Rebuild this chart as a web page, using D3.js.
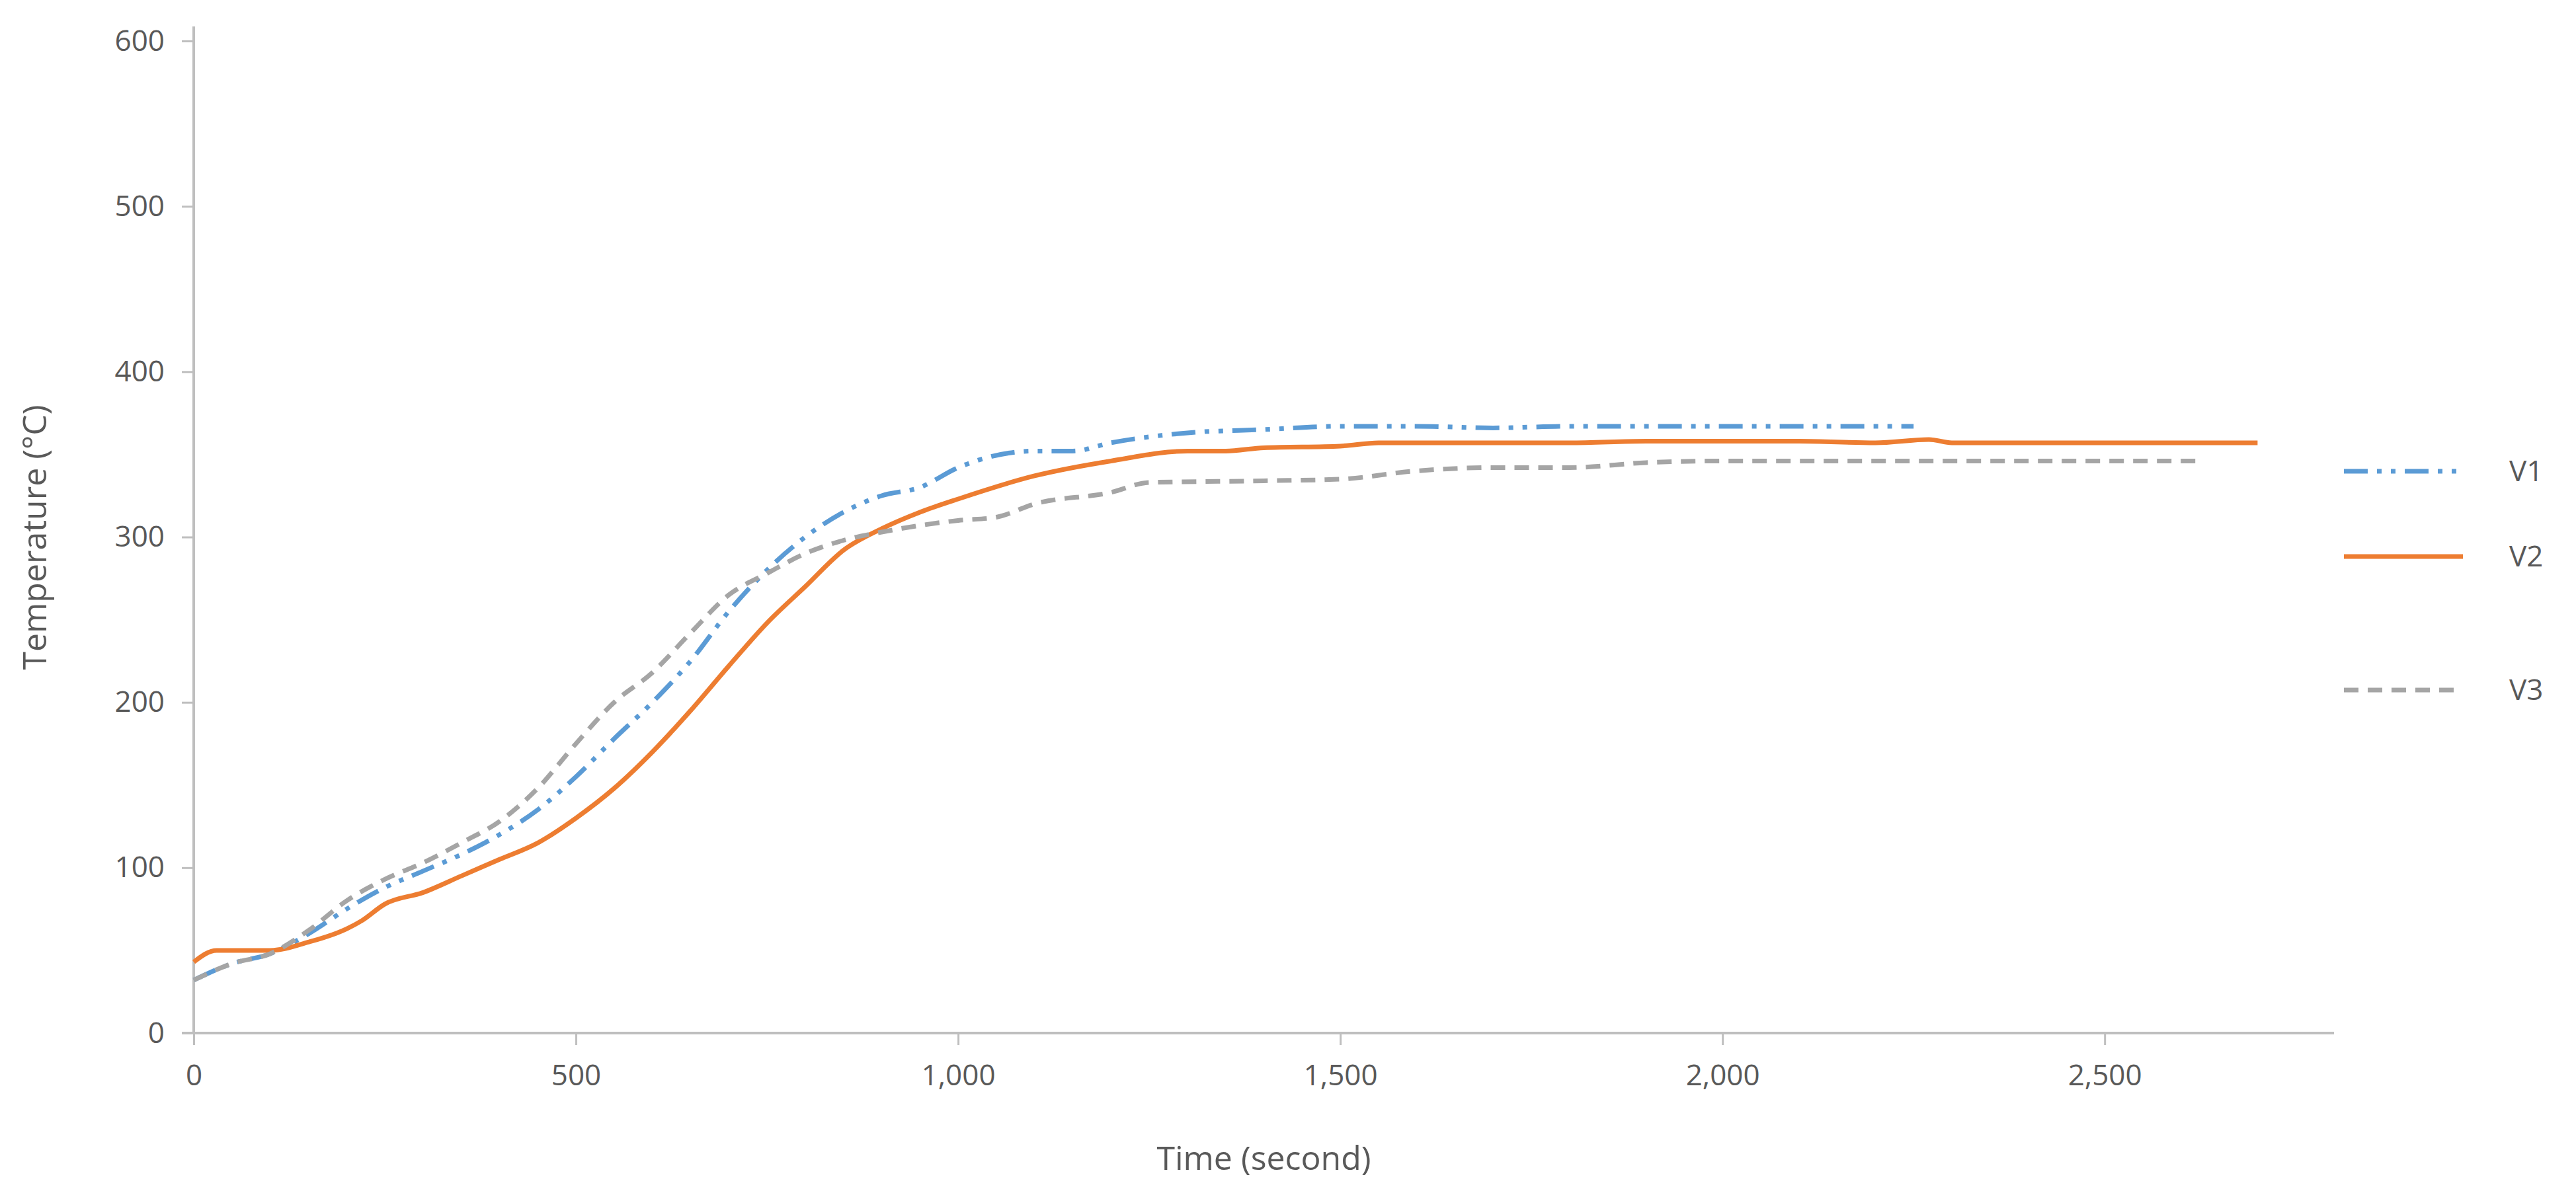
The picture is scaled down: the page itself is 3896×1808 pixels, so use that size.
<!DOCTYPE html><html><head><meta charset="utf-8"><script src="https://cdn.jsdelivr.net/npm/d3@7"></script>
<style>body{margin:0;background:#fff}svg{display:block}</style></head><body><svg id="c" width="3896" height="1808"></svg>
<script>
const seriesNames=["V1","V2","V3"];
const colors=["#5B9BD5","#ED7D31","#A5A5A5"];
const v1t=[0,50,100,150,200,250,300,350,400,450,500,550,600,650,700,750,800,850,900,950,1000,1100,1150,1200,1300,1400,1500,1600,1700,1800,2000,2250];
const v1y=[32,42,48,60,75,88,98,108,120,135,155,178,200,225,255,280,300,315,325,330,342,352,352,357,363,365,367,367,366,367,367,367];
const v2t=[0,30,50,100,150,200,220,250,300,350,400,450,500,550,600,650,700,750,800,850,900,950,1000,1100,1200,1300,1350,1400,1500,1550,1800,1900,2100,2200,2270,2300,2700];
const v2y=[43,50,50,50,55,63,68,78,85,95,105,115,130,148,170,195,222,248,270,292,305,315,323,337,346,352,352,354,355,357,357,358,358,357,359,357,357];
const v3t=[0,50,100,150,200,250,300,350,400,450,500,550,600,650,700,750,800,850,900,1000,1050,1100,1200,1250,1400,1500,1600,1700,1800,1900,2000,2620];
const v3y=[32,42,48,62,80,93,103,115,128,148,175,200,218,242,265,278,290,298,303,310,312,320,327,333,334,335,340,342,342,345,346,346];
const xTicks=[0,500,1000,1500,2000,2500];
const yTicks=[0,100,200,300,400,500,600];
const series=[[v1t,v1y],[v2t,v2y],[v3t,v3y]];
const dashes=["36,14,7,14,7,14","",  "22,14"];

const svg=d3.select("#c");
const x=d3.scaleLinear().domain([0,2800]).range([293,3530]);
const y=d3.scaleLinear().domain([0,600]).range([1563,62]);
const txt="#595959",font="'Open Sans',sans-serif";

const ya=svg.append("g").attr("transform","translate(293,0)").call(d3.axisLeft(y).tickValues(yTicks).tickSize(18).tickPadding(26));
ya.select(".domain").attr("d","M0,1563V40").attr("stroke","#BFBFBF").attr("stroke-width",4);
const xa=svg.append("g").attr("transform","translate(0,1563)").call(d3.axisBottom(x).tickValues(xTicks).tickSize(18).tickPadding(30));
xa.select(".domain").attr("d","M275,0H3530").attr("stroke","#BFBFBF").attr("stroke-width",4);
svg.selectAll(".tick line").attr("stroke","#BFBFBF").attr("stroke-width",3);
svg.selectAll(".tick text").attr("fill",txt).attr("font-family",font).attr("font-size",44);

const line=d3.line().x(d=>x(d[0])).y(d=>y(d[1])).curve(d3.curveMonotoneX);
series.forEach((s,i)=>{
  const pts=s[0].map((t,j)=>[t,s[1][j]]);
  svg.append("path").datum(pts).attr("d",line).attr("fill","none").attr("stroke",colors[i])
   .attr("stroke-width",7).attr("stroke-dasharray",dashes[i]||null);
});

svg.append("text").attr("x",x(1400)).attr("y",1770).attr("text-anchor","middle").attr("fill",txt)
  .attr("font-family",font).attr("font-size",50).text("Time (second)");
svg.append("text").attr("transform","translate(70,813) rotate(-90)").attr("text-anchor","middle").attr("fill",txt)
  .attr("font-family",font).attr("font-size",50).text("Temperature (°C)");

const ly=[713,842,1044];
seriesNames.forEach((n,i)=>{
  svg.append("line").attr("x1",3545).attr("x2",3725).attr("y1",ly[i]).attr("y2",ly[i]).attr("stroke",colors[i])
    .attr("stroke-width",7).attr("stroke-dasharray",dashes[i]||null);
  svg.append("text").attr("x",3795).attr("y",ly[i]).attr("dy","0.35em").attr("fill",txt)
    .attr("font-family",font).attr("font-size",44).text(n);
});
</script></body></html>
